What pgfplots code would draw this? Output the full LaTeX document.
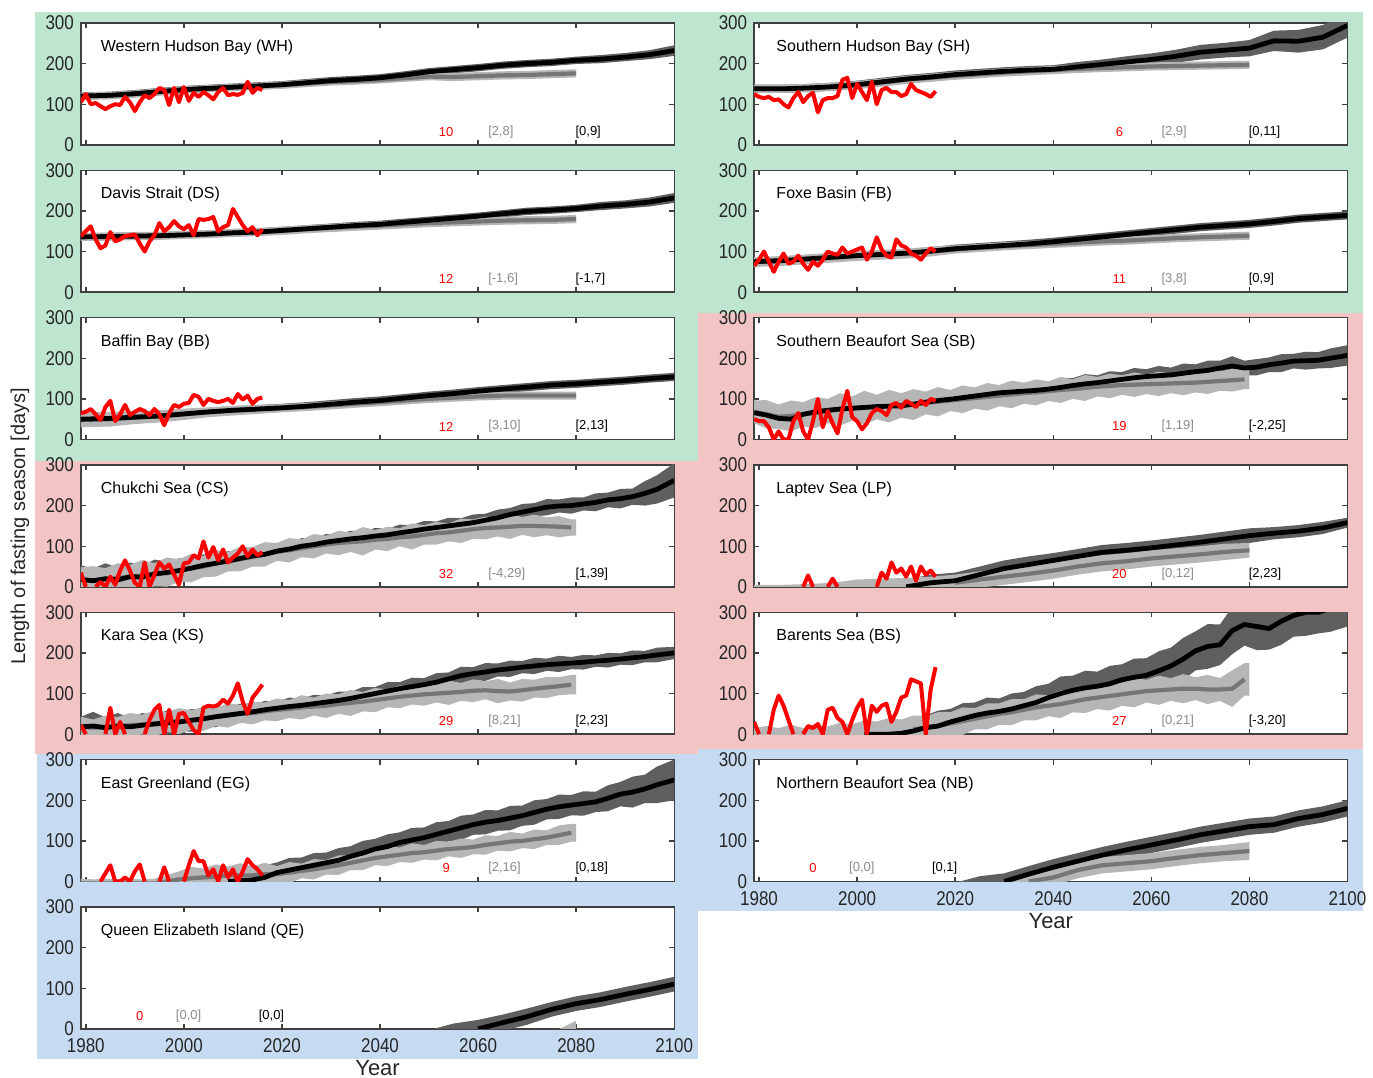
\documentclass[border=0pt]{standalone}
\usepackage{fontspec}
\setmainfont{Liberation Sans}
\newfontfamily\tickfam[FakeStretch=0.85]{Liberation Sans}
\usepackage{pgfplots}
\pgfplotsset{compat=1.18}
\usepackage{pgfplotstable}
\usepgfplotslibrary{fillbetween}

\pgfdeclarelayer{bgcolor}
\pgfdeclarelayer{axis background}
\pgfdeclarelayer{axis grid}
\pgfdeclarelayer{axis ticks}
\pgfdeclarelayer{axis lines}
\pgfdeclarelayer{axis tick labels}
\pgfdeclarelayer{pre main}
\pgfdeclarelayer{axis descriptions}
\pgfdeclarelayer{axis foreground}
\newcommand\mylayers{\pgfsetlayers{bgcolor,axis background,axis grid,axis ticks,axis lines,axis tick labels,pre main,main,axis descriptions,axis foreground}}

\definecolor{bggreen}{RGB}{189,229,208}
\definecolor{bgpink}{RGB}{242,196,196}
\definecolor{bgblue}{RGB}{198,219,242}
\definecolor{darkband}{RGB}{95,95,95}
\definecolor{lightband}{RGB}{182,182,182}
\definecolor{gline}{RGB}{118,118,118}
\definecolor{axgray}{RGB}{64,64,64}
\definecolor{tickcol}{RGB}{38,38,38}
\definecolor{lblgray}{RGB}{140,140,140}
\definecolor{obsred}{RGB}{255,0,0}

\pgfplotsset{
 panel/.style={
  set layers,
  scale only axis, width=297pt, height=61pt, anchor=north west,
  xmin=1979, xmax=2100, ymin=0, ymax=300,
  xtick={1980,2000,2020,2040,2060,2080,2100},
  ytick={0,100,200,300}, yticklabels={0,100,200,300},
  xticklabels={},
  tick align=inside, major tick length=2.5pt,
  axis line style={draw=axgray, line width=0.7pt},
  tick style={draw=axgray, line width=0.7pt},
  ticklabel style={font=\tickfam\fontsize{10}{12}\selectfont, text=tickcol},
  xticklabel style={yshift=-1.5pt},
  axis background/.style={fill=white},
 },
 bottom/.style={xticklabels={1980,2000,2020,2040,2060,2080,2100}},
}
\tikzset{
 ttl/.style={anchor=west, font=\fontsize{8}{9.6}\selectfont, text=black, inner sep=0pt},
 lbl/.style={font=\fontsize{6.5}{8}\selectfont, inner sep=0pt},
}

\newcommand\bands[1]{%
 \addplot[draw=none, name path=A, forget plot] table[x=yr, y expr=\thisrow{m}-\thisrow{dm}]{#1};
 \addplot[draw=none, name path=B, forget plot] table[x=yr, y expr=\thisrow{m}+\thisrow{dm}]{#1};
 \addplot[fill=darkband, draw=none, forget plot] fill between[of=A and B];
 \addplot[draw=none, name path=C, forget plot] table[x=yr, y expr=\thisrow{g}-\thisrow{dg}]{#1};
 \addplot[draw=none, name path=D, forget plot] table[x=yr, y expr=\thisrow{g}+\thisrow{dg}]{#1};
 \addplot[fill=lightband, draw=none, forget plot] fill between[of=C and D, soft clip={domain=1979:2080}];
}
\newcommand\gray[2]{\addplot[gline, line width=2.1pt, line join=round, unbounded coords=discard, restrict x to domain=#2:2080] table[x=yr, y=g]{#1};}
\newcommand\blk[2]{\addplot[black, line width=2.4pt, line join=round, unbounded coords=discard, restrict x to domain=#2:2100] table[x=yr, y=m]{#1};}
\newcommand\model[3]{\bands{#1}\gray{#1}{#3}\blk{#1}{#2}}
\newcommand\obs[1]{\addplot[obsred, line width=2pt, line join=round, unbounded coords=jump] coordinates {#1};}
\newcommand\lab[3]{%
 \node[lbl, text=obsred] at (axis cs:2053.5,32) {#1};
 \node[lbl, text=lblgray, anchor=west] at (axis cs:2062,32) {#2};
 \node[lbl, text=black, anchor=west] at (axis cs:2079.8,32) {#3};
}
\newcommand\labb[3]{%
 \node[lbl, text=obsred] at (axis cs:1991,32) {#1};
 \node[lbl, text=lblgray, anchor=west] at (axis cs:1998.3,32) {#2};
 \node[lbl, text=black, anchor=west] at (axis cs:2015.2,32) {#3};
}

\pgfplotstableread{
yr m dm g dg
1979 120 9 120 9
1985 122 9 121 9
1990 126 9 125 9
1995 131 9 130 9
2000 136 9 135 9
2005 139 9 138 9
2010 142 9 141 9
2015 145 9 144 9
2020 148 9 147 9
2025 153 9 151 9
2030 158 9 155 9
2035 161 9 157 9
2040 165 9 160 9
2045 172 9 164 9
2050 180 9 168 9
2055 185 9 167 10
2060 190 9 169 10
2065 196 9 171 10
2070 200 9 172 10
2075 203 9 174 10
2080 208 9 176 10
2085 211 10 176 10
2090 216 10 176 10
2095 222 11 176 10
2100 232 13 176 10
}\tWH
\pgfplotstableread{
yr m dm g dg
1979 136 9 136 10
1985 137 9 137 10
1990 138 9 138 10
1995 139 9 139 10
2000 141 9 141 10
2005 143 9 143 10
2010 146 9 146 10
2015 148 9 148 10
2020 152 9 151 10
2025 156 9 155 10
2030 160 9 158 10
2035 164 9 161 10
2040 167 9 164 10
2045 172 9 167 10
2050 177 9 170 10
2055 182 9 172 10
2060 187 9 174 10
2065 193 9 176 10
2070 199 9 177 10
2075 202 9 178 10
2080 206 9 180 10
2085 212 10 180 10
2090 216 10 180 10
2095 222 11 180 10
2100 232 12 180 10
}\tDS
\pgfplotstableread{
yr m dm g dg
1979 50 10 48 18
1985 52 10 50 18
1990 55 10 54 16
1995 58 10 57 15
2000 63 10 62 14
2005 68 10 67 12
2010 72 10 71 12
2015 75 10 74 11
2020 78 10 77 10
2025 82 10 80 10
2030 87 10 84 10
2035 92 10 88 10
2040 96 10 92 10
2045 102 10 96 10
2050 108 10 100 10
2055 113 10 103 10
2060 119 10 106 10
2065 124 10 108 10
2070 129 10 108 10
2075 134 10 108 10
2080 137 10 108 10
2085 141 10 108 10
2090 145 10 108 10
2095 150 10 108 10
2100 154 10 108 10
}\tBB
\pgfplotstableread{
yr m dm g dg
1979 18 35 18 30
1981.5 15 30 16 35
1984 20 38 18 28
1986.5 17 30 22 36
1989 25 35 24 30
1991.5 24 28 28 38
1994 32 35 30 28
1996.5 35 27 36 36
1999 40 30 40 28
2001.5 46 22 46 35
2004 53 27 50 26
2006.5 58 20 58 33
2009 64 24 62 24
2011.5 70 18 68 30
2014 76 22 74 24
2016.5 80 16 80 30
2019 88 20 86 22
2021.5 93 15 90 30
2024 100 20 95 22
2026.5 104 15 100 30
2029 110 20 104 22
2031.5 114 15 108 30
2034 118 20 110 24
2036.5 121 15 112 35
2039 125 20 116 24
2041.5 128 15 118 30
2044 133 20 122 22
2046.5 137 15 124 32
2049 142 20 128 24
2051.5 146 15 132 28
2054 150 20 134 22
2056.5 154 15 138 30
2059 158 20 142 24
2061.5 164 16 145 28
2064 170 20 146 22
2066.5 178 16 148 30
2069 184 20 150 22
2071.5 190 16 150 28
2074 196 20 149 22
2076.5 199 16 148 26
2079 200 20 146 20
2081.5 204 16 146 20
2084 208 22 146 20
2086.5 214 18 146 20
2089 217 24 146 20
2091.5 222 20 146 20
2094 230 30 146 20
2096.5 240 35 146 20
2100 262 42 146 20
}\tCS
\pgfplotstableread{
yr m dm g dg
1979 18 25 18 25
1981.5 20 35 16 20
1984 16 25 18 28
1986.5 20 32 20 22
1989 18 22 22 30
1991.5 22 30 24 24
1994 25 22 26 32
1996.5 28 30 30 24
1999 30 22 32 32
2001.5 34 28 35 24
2004 38 20 38 30
2006.5 43 26 42 22
2009 47 18 46 30
2011.5 51 24 50 22
2014 55 17 52 28
2016.5 60 22 56 22
2019 64 16 60 28
2021.5 68 22 62 22
2024 71 16 66 30
2026.5 75 22 68 22
2029 79 16 70 30
2031.5 83 22 74 24
2034 88 16 77 32
2036.5 94 22 80 24
2039 100 16 84 30
2041.5 106 22 88 22
2044 112 16 92 28
2046.5 117 22 95 22
2049 122 16 98 28
2051.5 128 22 100 22
2054 136 16 102 30
2056.5 144 22 104 22
2059 149 16 107 28
2061.5 153 22 108 22
2064 158 16 106 30
2066.5 161 20 105 22
2069 165 15 108 28
2071.5 168 20 112 22
2074 171 15 115 26
2076.5 173 20 118 22
2079 175 15 122 24
2081.5 177 18 122 24
2084 180 14 122 24
2086.5 182 18 122 24
2089 185 14 122 24
2091.5 188 18 122 24
2094 191 14 122 24
2096.5 195 18 122 24
2100 200 15 122 24
}\tKS
\pgfplotstableread{
yr m dm g dg
1979 -5 8 -5 12
1981.5 -5 8 -5 10
1984 -5 8 -5 12
1986.5 -5 8 -5 10
1989 -5 8 -5 12
1991.5 -5 8 -5 10
1994 -5 8 -5 12
1996.5 -5 8 0 15
1999 -5 10 5 20
2001.5 -5 12 8 28
2004 -5 15 10 22
2006.5 -3 20 12 30
2009 0 22 15 22
2011.5 2 28 15 30
2014 4 24 15 22
2016.5 10 30 18 28
2019 22 25 18 20
2021.5 28 30 22 26
2024 34 25 26 18
2026.5 40 30 30 25
2029 46 25 35 18
2031.5 52 30 40 24
2034 62 25 46 18
2036.5 70 30 52 24
2039 80 25 58 18
2041.5 86 30 62 24
2044 96 25 66 18
2046.5 102 30 70 24
2049 108 25 72 18
2051.5 116 30 76 24
2054 124 25 80 18
2056.5 132 30 82 24
2059 140 25 85 18
2061.5 146 30 90 24
2064 150 25 94 18
2066.5 156 30 98 24
2069 162 25 100 18
2071.5 170 30 104 24
2074 178 25 108 18
2076.5 184 30 114 24
2079 188 25 120 22
2081.5 192 30 120 22
2084 196 25 120 22
2086.5 205 32 120 22
2089 215 30 120 22
2091.5 220 38 120 22
2094 228 35 120 22
2096.5 238 45 120 22
2100 250 50 120 22
}\tEG
\pgfplotstableread{
yr m dm g dg
1979 -20 5 -20 5
1985 -20 5 -20 5
1990 -20 5 -20 5
1995 -20 5 -20 5
2000 -20 5 -20 5
2005 -20 5 -20 5
2010 -20 5 -20 5
2015 -20 5 -20 5
2020 -20 5 -20 5
2025 -20 5 -20 5
2030 -20 5 -20 5
2035 -20 5 -20 5
2040 -20 5 -20 5
2045 -20 5 -20 5
2050 -15 12 -20 5
2055 -5 18 -20 5
2060 0 22 -20 5
2065 15 20 -20 5
2070 30 20 -20 5
2075 48 18 -15 5
2080 62 18 0 20
2085 72 18 0 20
2090 85 18 0 20
2095 97 18 0 20
2100 110 18 0 20
}\tQE
\pgfplotstableread{
yr m dm g dg
1979 138 10 138 10
1985 138 10 138 10
1990 140 10 140 10
1995 143 10 143 10
2000 148 10 147 10
2005 155 10 153 10
2010 162 10 160 10
2015 167 10 165 10
2020 173 10 170 10
2025 177 10 174 10
2030 181 10 178 10
2035 184 10 181 10
2040 186 10 184 10
2045 192 12 187 10
2050 198 12 189 10
2055 204 14 191 10
2060 210 15 193 10
2065 218 16 194 10
2070 228 18 195 10
2075 233 18 196 10
2080 238 20 197 10
2085 256 25 197 10
2090 255 28 197 10
2095 265 30 197 10
2100 294 30 197 10
}\tSH
\pgfplotstableread{
yr m dm g dg
1979 75 10 74 12
1985 78 10 77 12
1990 82 10 81 12
1995 86 10 85 12
2000 90 10 89 12
2005 93 10 92 12
2010 96 10 95 12
2015 101 10 100 12
2020 107 10 105 10
2025 111 10 109 10
2030 115 10 113 10
2035 119 10 116 10
2040 124 10 119 10
2045 130 10 122 10
2050 136 10 125 10
2055 142 10 127 10
2060 148 10 130 10
2065 154 10 133 10
2070 160 10 135 10
2075 164 10 137 10
2080 168 10 139 10
2085 174 10 139 10
2090 181 10 139 10
2095 185 10 139 10
2100 189 10 139 10
}\tFB
\pgfplotstableread{
yr m dm g dg
1979 66 20 68 28
1981.5 60 25 62 35
1984 52 20 56 30
1986.5 50 26 58 38
1989 62 20 62 30
1991.5 68 26 66 38
1994 72 20 70 30
1996.5 75 26 74 40
1999 77 20 76 30
2001.5 79 26 78 42
2004 81 20 80 30
2006.5 82 26 82 40
2009 83 20 84 30
2011.5 87 26 86 38
2014 92 20 90 28
2016.5 96 25 93 36
2019 99 18 96 26
2021.5 103 24 99 34
2024 107 18 102 26
2026.5 111 24 105 34
2029 115 18 108 26
2031.5 117 24 111 34
2034 119 18 114 26
2036.5 121 24 116 32
2039 124 18 119 24
2041.5 128 24 122 32
2044 133 18 124 24
2046.5 137 24 127 32
2049 140 18 130 24
2051.5 144 24 132 30
2054 148 18 134 24
2056.5 152 24 135 30
2059 155 18 136 24
2061.5 157 24 137 30
2064 159 18 138 24
2066.5 163 24 139 30
2069 167 18 140 24
2071.5 170 24 142 30
2074 176 18 144 24
2076.5 181 24 146 28
2079 176 18 148 24
2081.5 178 20 148 24
2084 184 18 148 24
2086.5 188 22 148 24
2089 193 18 148 24
2091.5 194 22 148 24
2094 195 20 148 24
2096.5 200 24 148 24
2100 207 25 148 24
}\tSB
\pgfplotstableread{
yr m dm g dg
1979 -10 8 -10 15
1985 -10 8 -10 15
1990 -10 8 -8 15
1995 -8 10 -5 15
2000 -5 12 0 18
2005 -3 15 0 20
2010 0 18 2 20
2015 10 20 5 20
2020 15 20 10 20
2025 30 20 18 20
2030 45 20 25 20
2035 55 20 32 20
2040 65 18 40 20
2045 75 18 50 20
2050 85 18 58 20
2055 90 18 63 20
2060 96 18 70 20
2065 103 18 75 20
2070 110 18 80 20
2075 118 18 86 20
2080 126 18 90 18
2085 132 15 90 18
2090 137 15 90 18
2095 145 15 90 18
2100 158 12 90 18
}\tLP
\pgfplotstableread{
yr m dm g dg
1979 -10 20 -5 20
1981.5 -10 30 -5 25
1984 -10 20 -5 20
1986.5 -10 30 -5 28
1989 -10 20 -5 20
1991.5 -8 30 -3 28
1994 -8 22 -3 22
1996.5 -6 32 -2 30
1999 -3 25 0 24
2001.5 0 32 2 32
2004 0 26 5 26
2006.5 0 34 6 34
2009 2 28 8 28
2011.5 8 36 12 34
2014 16 30 16 28
2016.5 20 38 20 34
2019 30 32 26 28
2021.5 38 38 32 34
2024 46 32 38 26
2026.5 52 38 44 32
2029 56 32 50 26
2031.5 62 38 54 32
2034 70 34 60 26
2036.5 78 40 66 32
2039 90 34 70 26
2041.5 100 42 74 34
2044 108 36 80 26
2046.5 114 42 86 34
2049 118 36 90 28
2051.5 124 44 94 36
2054 134 38 98 28
2056.5 140 46 102 36
2059 145 42 106 28
2061.5 156 48 108 36
2064 168 45 110 28
2066.5 185 52 112 36
2069 205 48 112 28
2071.5 216 55 110 36
2074 220 50 110 28
2076.5 255 58 112 45
2079 270 52 135 40
2081.5 265 58 135 40
2084 260 52 135 40
2086.5 278 58 135 40
2089 292 52 135 40
2091.5 300 58 135 40
2094 300 52 135 40
2096.5 310 58 135 40
2100 320 55 135 40
}\tBS
\pgfplotstableread{
yr m dm g dg
1979 -20 5 -20 5
1985 -20 5 -20 5
1990 -20 5 -20 5
1995 -20 5 -20 5
2000 -20 5 -20 5
2005 -20 5 -20 5
2010 -20 5 -20 5
2015 -20 5 -20 5
2020 -15 12 -20 5
2025 -5 18 -20 5
2030 0 20 -15 10
2035 18 20 0 15
2040 35 20 10 20
2045 50 20 28 20
2050 65 20 40 20
2055 78 20 45 20
2060 90 20 50 20
2065 102 20 58 20
2070 115 20 65 20
2075 125 20 70 20
2080 135 20 75 22
2085 140 20 75 22
2090 155 20 75 22
2095 165 20 75 22
2100 180 20 75 22
}\tNB

\begin{document}
\begin{tikzpicture}
\mylayers
\path (0pt,0pt) rectangle (686.5pt,-539.5pt);
% background regions
\begin{pgfonlayer}{bgcolor}
\fill[bggreen] (17.5pt,-6pt) rectangle (682.5pt,-156.5pt);
\fill[bggreen] (17.5pt,-156.4pt) rectangle (349.5pt,-231pt);
\fill[bgpink] (349.5pt,-156.5pt) rectangle (682.5pt,-375pt);
\fill[bgpink] (17.5pt,-231pt) rectangle (349.6pt,-377.5pt);
\fill[bgblue] (18.5pt,-377.5pt) rectangle (349.5pt,-530pt);
\fill[bgblue] (349.4pt,-375pt) rectangle (682.5pt,-456pt);
\end{pgfonlayer}

\node[rotate=90, inner sep=0pt, font=\fontsize{10}{12}\selectfont, text=tickcol] at (10pt,-263.5pt) {Length of fasting season [days]};
\node[inner sep=0pt, font=\fontsize{11}{13}\selectfont, text=tickcol] at (189pt,-534.5pt) {Year};
\node[inner sep=0pt, font=\fontsize{11}{13}\selectfont, text=tickcol] at (526pt,-461pt) {Year};

% ---------------- left column ----------------
\begin{axis}[panel, at={(40.5pt,-11.5pt)}]
\model{\tWH}{1979}{1979}
\obs{(1979,105)(1980,125)(1981,100)(1982,103)(1983,95)(1984,88)(1985,95)(1986,100)(1987,98)(1988,118)(1989,105)(1990,83)(1991,105)(1992,122)(1993,115)(1994,125)(1995,140)(1996,135)(1997,98)(1998,140)(1999,105)(2000,142)(2001,108)(2002,128)(2003,118)(2004,130)(2005,122)(2006,112)(2007,130)(2008,140)(2009,122)(2010,125)(2011,123)(2012,128)(2013,155)(2014,128)(2015,140)(2016,135)}
\node[ttl] at (rel axis cs:0.033,0.8) {Western Hudson Bay (WH)};
\lab{10}{[2,8]}{[0,9]}
\end{axis}

\begin{axis}[panel, at={(40.5pt,-85.25pt)}]
\model{\tDS}{1979}{1979}
\obs{(1979,138)(1980,150)(1981,162)(1982,130)(1983,108)(1984,115)(1985,148)(1986,125)(1987,130)(1988,138)(1989,140)(1990,142)(1991,120)(1992,100)(1993,125)(1994,140)(1995,170)(1996,150)(1997,160)(1998,175)(1999,162)(2000,155)(2001,165)(2002,140)(2003,180)(2004,178)(2005,180)(2006,185)(2007,150)(2008,160)(2009,165)(2010,205)(2011,185)(2012,165)(2013,150)(2014,160)(2015,140)(2016,155)}
\node[ttl] at (rel axis cs:0.033,0.8) {Davis Strait (DS)};
\lab{12}{[-1,6]}{[-1,7]}
\end{axis}

\begin{axis}[panel, at={(40.5pt,-159pt)}]
\model{\tBB}{1979}{1979}
\obs{(1979,65)(1980,68)(1981,75)(1982,62)(1983,48)(1984,80)(1985,95)(1986,45)(1987,62)(1988,85)(1989,60)(1990,68)(1991,75)(1992,70)(1993,60)(1994,75)(1995,62)(1996,35)(1997,65)(1998,85)(1999,80)(2000,88)(2001,90)(2002,110)(2003,105)(2004,85)(2005,100)(2006,95)(2007,92)(2008,95)(2009,100)(2010,90)(2011,112)(2012,98)(2013,108)(2014,88)(2015,100)(2016,103)}
\node[ttl] at (rel axis cs:0.033,0.8) {Baffin Bay (BB)};
\lab{12}{[3,10]}{[2,13]}
\end{axis}

\begin{axis}[panel, at={(40.5pt,-232.75pt)}]
\model{\tCS}{1979}{1979}
\obs{(1979,35)(1980,0)(1981,nan)(1982,0)(1983,12)(1984,0)(1985,25)(1986,5)(1987,40)(1988,65)(1989,40)(1990,10)(1991,0)(1992,60)(1993,0)(1994,30)(1995,60)(1996,45)(1997,55)(1998,30)(1999,5)(2000,58)(2001,60)(2002,78)(2003,70)(2004,112)(2005,72)(2006,98)(2007,65)(2008,92)(2009,60)(2010,72)(2011,82)(2012,100)(2013,75)(2014,92)(2015,78)(2016,85)}
\node[ttl] at (rel axis cs:0.033,0.8) {Chukchi Sea (CS)};
\lab{32}{[-4,29]}{[1,39]}
\end{axis}

\begin{axis}[panel, at={(40.5pt,-306.5pt)}]
\model{\tKS}{1979}{1979}
\obs{(1979,22)(1980,0)(1981,nan)(1984,0)(1985,65)(1986,0)(1987,30)(1988,0)(1989,nan)(1992,0)(1993,35)(1994,60)(1995,72)(1996,0)(1997,60)(1998,0)(1999,50)(2000,52)(2001,30)(2002,10)(2003,0)(2004,65)(2005,70)(2006,68)(2007,72)(2008,85)(2009,75)(2010,95)(2011,125)(2012,80)(2013,50)(2014,90)(2015,105)(2016,122)}
\node[ttl] at (rel axis cs:0.033,0.8) {Kara Sea (KS)};
\lab{29}{[8,21]}{[2,23]}
\end{axis}

\begin{axis}[panel, at={(40.5pt,-380.25pt)}]
\model{\tEG}{2009}{1979}
\obs{(1983,0)(1984,20)(1985,40)(1986,0)(1987,0)(1988,10)(1989,0)(1990,25)(1991,42)(1992,0)(1993,nan)(1995,0)(1996,35)(1997,0)(1998,nan)(2000,0)(2001,40)(2002,75)(2003,50)(2004,50)(2005,15)(2006,30)(2007,0)(2008,40)(2009,10)(2010,30)(2011,0)(2012,25)(2013,55)(2014,40)(2015,30)(2016,15)}
\node[ttl] at (rel axis cs:0.033,0.8) {East Greenland (EG)};
\lab{9}{[2,16]}{[0,18]}
\end{axis}

\begin{axis}[panel, bottom, at={(40.5pt,-454pt)}]
\bands{\tQE}
\blk{\tQE}{2060}
\node[ttl] at (rel axis cs:0.033,0.8) {Queen Elizabeth Island (QE)};
\labb{0}{[0,0]}{[0,0]}
\end{axis}

% ---------------- right column ----------------
\begin{axis}[panel, at={(377.5pt,-11.5pt)}]
\model{\tSH}{1979}{1979}
\obs{(1979,125)(1980,118)(1981,115)(1982,118)(1983,110)(1984,112)(1985,100)(1986,92)(1987,115)(1988,130)(1989,105)(1990,120)(1991,128)(1992,80)(1993,110)(1994,115)(1995,115)(1996,120)(1997,160)(1998,165)(1999,115)(2000,150)(2001,130)(2002,110)(2003,155)(2004,100)(2005,135)(2006,140)(2007,130)(2008,130)(2009,120)(2010,125)(2011,150)(2012,135)(2013,130)(2014,125)(2015,118)(2016,132)}
\node[ttl] at (rel axis cs:0.037,0.8) {Southern Hudson Bay (SH)};
\lab{6}{[2,9]}{[0,11]}
\end{axis}

\begin{axis}[panel, at={(377.5pt,-85.25pt)}]
\model{\tFB}{1979}{1979}
\obs{(1979,65)(1980,80)(1981,100)(1982,75)(1983,50)(1984,75)(1985,95)(1986,70)(1987,75)(1988,90)(1989,70)(1990,55)(1991,75)(1992,65)(1993,80)(1994,100)(1995,95)(1996,92)(1997,110)(1998,95)(1999,100)(2000,105)(2001,110)(2002,80)(2003,100)(2004,135)(2005,105)(2006,90)(2007,85)(2008,130)(2009,115)(2010,110)(2011,95)(2012,90)(2013,80)(2014,95)(2015,108)(2016,100)}
\node[ttl] at (rel axis cs:0.037,0.8) {Foxe Basin (FB)};
\lab{11}{[3,8]}{[0,9]}
\end{axis}

\begin{axis}[panel, at={(377.5pt,-159pt)}]
\model{\tSB}{1979}{1979}
\obs{(1979,50)(1980,45)(1981,45)(1982,30)(1983,0)(1984,20)(1985,0)(1986,0)(1987,45)(1988,65)(1989,20)(1990,0)(1991,45)(1992,100)(1993,30)(1994,70)(1995,40)(1996,15)(1997,75)(1998,120)(1999,55)(2000,45)(2001,25)(2002,40)(2003,65)(2004,75)(2005,70)(2006,60)(2007,85)(2008,90)(2009,78)(2010,95)(2011,88)(2012,80)(2013,95)(2014,85)(2015,100)(2016,95)}
\node[ttl] at (rel axis cs:0.037,0.8) {Southern Beaufort Sea (SB)};
\lab{19}{[1,19]}{[-2,25]}
\end{axis}

\begin{axis}[panel, at={(377.5pt,-232.75pt)}]
\model{\tLP}{2010}{2020}
\obs{(1989,0)(1990,28)(1991,0)(1992,nan)(1994,0)(1995,20)(1996,0)(1997,nan)(2004,0)(2005,35)(2006,20)(2007,60)(2008,35)(2009,45)(2010,25)(2011,50)(2012,15)(2013,50)(2014,30)(2015,40)(2016,25)}
\node[ttl] at (rel axis cs:0.037,0.8) {Laptev Sea (LP)};
\lab{20}{[0,12]}{[2,23]}
\end{axis}

\begin{axis}[panel, at={(377.5pt,-306.5pt)}]
\model{\tBS}{2000}{2010}
\obs{(1979,30)(1980,0)(1981,nan)(1982,0)(1983,60)(1984,95)(1985,70)(1986,35)(1987,0)(1988,nan)(1989,0)(1990,20)(1991,15)(1992,25)(1993,0)(1994,60)(1995,65)(1996,40)(1997,30)(1998,0)(1999,35)(2000,65)(2001,85)(2002,0)(2003,70)(2004,55)(2005,70)(2006,75)(2007,30)(2008,55)(2009,90)(2010,95)(2011,135)(2012,130)(2013,125)(2014,0)(2015,110)(2016,165)}
\node[ttl] at (rel axis cs:0.037,0.8) {Barents Sea (BS)};
\lab{27}{[0,21]}{[-3,20]}
\end{axis}

\begin{axis}[panel, bottom, at={(377.5pt,-380.25pt)}]
\model{\tNB}{2030}{2035}
\node[ttl] at (rel axis cs:0.037,0.8) {Northern Beaufort Sea (NB)};
\labb{0}{[0,0]}{[0,1]}
\end{axis}
\mylayers
\end{tikzpicture}
\end{document}
